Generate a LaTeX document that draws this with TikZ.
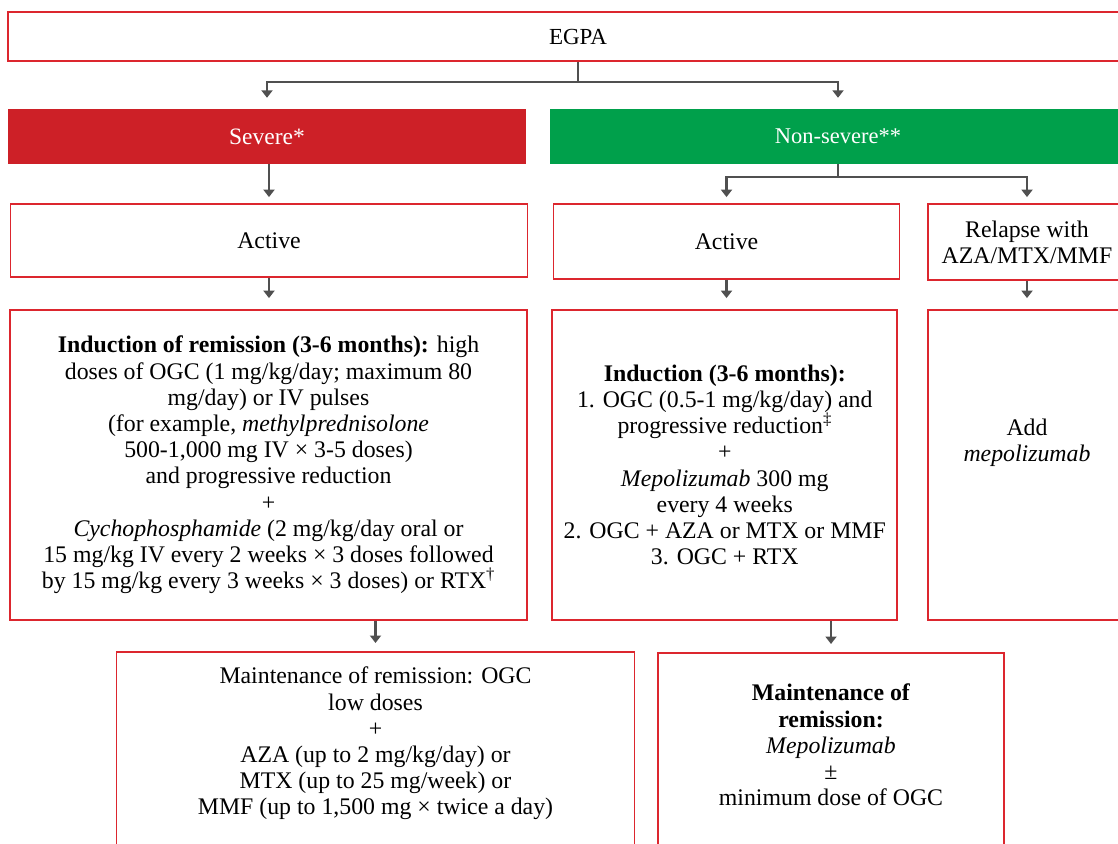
\documentclass[tikz,border=0pt]{standalone}
\usepackage{fontspec}
\setmainfont{Liberation Serif}
\usetikzlibrary{arrows.meta,calc}
\definecolor{bred}{RGB}{220,38,46}
\definecolor{sevred}{RGB}{205,32,39}
\definecolor{nsgreen}{RGB}{0,160,75}
\definecolor{conngray}{RGB}{80,80,80}
\begin{document}
\begin{tikzpicture}[x=1pt,y=-1pt,
  box/.style={draw=bred,line width=1.8pt,fill=white,inner sep=0pt,align=center,font=\fontsize{23.8}{26.2}\selectfont},
  head/.style={inner sep=0pt,align=center,text=white,font=\fontsize{23.5}{26}\selectfont},
  txt/.style={inner sep=0pt,align=center,font=\fontsize{23.8}{26.2}\selectfont},
  conn/.style={draw=conngray,line width=2.3pt,-{Triangle[length=7.5pt,width=11pt]}}
  ]
\useasboundingbox (0,0) rectangle (1118,843);
\clip (0,0) rectangle (1118,843);

\node[box,minimum width=1140pt,minimum height=49pt,font=\fontsize{23}{26}\selectfont] (egpa) at (578,36.5) {EGPA};

\node[head,fill=sevred,minimum width=518pt,minimum height=55pt] (severe) at (267,136.5) {Severe*};
\node[head,fill=nsgreen,minimum width=576pt,minimum height=55pt,font=\fontsize{22.5}{26}\selectfont] (nonsev) at (838,136.5) {Non-severe**};

\node[box,minimum width=517pt,minimum height=73pt] (actL) at (269,240.5) {Active};
\node[box,minimum width=346pt,minimum height=75pt] (actM) at (726.5,241.5) {Active};
\node[box,minimum width=198pt,minimum height=76pt] (relapse) at (1027,242) {Relapse with\\AZA/MTX/MMF};

\node[box,minimum width=517pt,minimum height=310pt] (indL) at (268.5,465) {%
\textbf{Induction of remission (3-6 months):} high\\
doses of OGC (1 mg/kg/day; maximum 80\\
mg/day) or IV pulses\\
(for example, \textit{methylprednisolone}\\
500-1,000 mg IV × 3-5 doses)\\
and progressive reduction\\
+\\
\textit{Cychophosphamide} (2 mg/kg/day oral or\\
15 mg/kg IV every 2 weeks × 3 doses followed\\
by 15 mg/kg every 3 weeks × 3 doses) or RTX\textsuperscript{†}};

\node[box,minimum width=345pt,minimum height=310pt] (indM) at (724.75,465) {%
\textbf{Induction (3-6 months):}\\
1. OGC (0.5-1 mg/kg/day) and\\
progressive reduction\textsuperscript{‡}\\
+\\
\textit{Mepolizumab} 300 mg\\
every 4 weeks\\
2. OGC + AZA or MTX or MMF\\
3. OGC + RTX};

\node[box,minimum width=198pt,minimum height=310pt] (addb) at (1027,465) {};
\node[txt] (addt) at (1027,443) {Add\\\textit{mepolizumab}};

\node[box,minimum width=518pt,minimum height=230pt,anchor=north] (maintL) at (375.5,651) {};
\node[txt,anchor=north] (maintLt) at (375.5,667) {%
Maintenance of remission: OGC\\
low doses\\
+\\
AZA (up to 2 mg/kg/day) or\\
MTX (up to 25 mg/week) or\\
MMF (up to 1,500 mg × twice a day)};

\node[box,minimum width=346pt,minimum height=230pt,anchor=north] (maintR) at (831,652) {};
\node[txt,anchor=north] (maintRt) at (831,684) {%
\textbf{Maintenance of}\\
\textbf{remission:}\\
\textit{Mepolizumab}\\
±\\
minimum dose of OGC};

\draw[conn,shorten >=11pt] (egpa.south) -- ++(0,20) -| (severe.north);
\draw[conn,shorten >=11pt] (egpa.south) -- ++(0,20) -| (nonsev.north);
\draw[conn,shorten >=6pt] (actL.north |- severe.south) -- (actL.north);
\draw[conn,shorten >=6pt] (nonsev.south) -- ++(0,13) -| (actM.north);
\draw[conn,shorten >=6pt] (nonsev.south) -- ++(0,13) -| (relapse.north);
\draw[conn,shorten >=11pt] (actL.south) -- (actL.south |- indL.north);
\draw[conn,shorten >=11pt] (actM.south) -- (actM.south |- indM.north);
\draw[conn,shorten >=11pt] (relapse.south) -- (addb.north);
\draw[conn,shorten >=8pt] (indL.south -| maintL.north) -- (maintL.north);
\draw[conn,shorten >=8pt] (indM.south -| maintR.north) -- (maintR.north);
\end{tikzpicture}
\end{document}
